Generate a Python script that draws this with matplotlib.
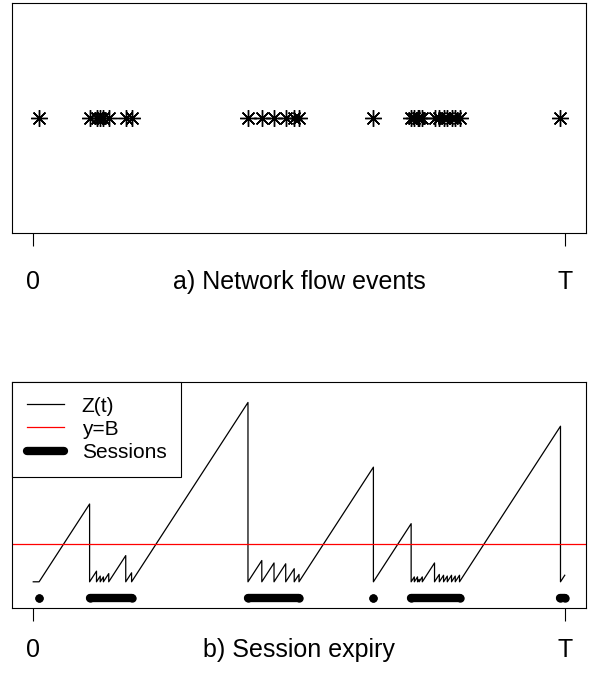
import numpy as np
import matplotlib
matplotlib.use('Agg')
import matplotlib.pyplot as plt

plt.rcParams['font.family'] = ['Liberation Sans', 'DejaVu Sans']

# --- data (time axis runs from 0 to T) ---
T = 100.0
events = [1.1, 10.6, 11.9, 12.6, 13.2, 14.2, 17.4, 18.5,
          40.4, 43.0, 45.3, 47.5, 49.1, 50.0,
          64.0,
          71.1, 71.7, 72.3, 72.6, 73.2, 75.5, 76.4, 77.2, 77.9, 78.7, 79.4, 80.2,
          99.2]
B = 4.6
session_start = [1.1, 10.6, 40.4, 64.0, 71.1, 99.2]
session_end = [1.1, 18.5, 50.0, 64.0, 80.2, 100.0]
session_level = -2.0
tick_pos = [0, T]
tick_lab = ['0', 'T']

# --- Z(t): time since last event (0 before the first one) ---
zt = [0.0, events[0]]
zv = [0.0, 0.0]
for i in range(1, len(events)):
    zt += [events[i], events[i]]
    zv += [events[i] - events[i-1], 0.0]
zt.append(T)
zv.append(T - events[-1])

W, H = 597, 673
fig = plt.figure(figsize=(W/100, H/100), dpi=100)
ax1 = fig.add_axes([12/W, 1 - 233/H, 574/W, 230/H])
ax2 = fig.add_axes([12/W, 1 - 608/H, 574/W, 226/H])

fs_leg = 15
fs_ax = 18


def bottom_labels(ax, title, off):
    for xp, lab in zip(tick_pos, tick_lab):
        ax.annotate(lab, xy=(xp, 0), xycoords=('data', 'axes fraction'),
                    xytext=(0, -off), textcoords='offset points',
                    ha='center', va='center', fontsize=fs_ax)
    ax.annotate(title, xy=(0.5, 0), xycoords='axes fraction',
                xytext=(0, -off), textcoords='offset points',
                ha='center', va='center', fontsize=fs_ax)


for ax in (ax1, ax2):
    ax.set_xlim(-4, 104)
    ax.set_yticks([])
    ax.set_xticks(tick_pos)
    ax.set_xticklabels([])
    ax.tick_params(axis='x', length=9, width=0.8, color='black')
    for s in ax.spines.values():
        s.set_linewidth(0.8)

# a) events
ax1.plot(events, np.zeros(len(events)), linestyle='none', marker=(8, 2, 0),
         ms=12, mew=1.0, color='black')
ax1.set_ylim(-1, 1)
bottom_labels(ax1, 'a) Network flow events', 35)

# b) session expiry
ax2.plot(zt, zv, color='black', lw=0.9, label='Z(t)')
ax2.axhline(B, color='red', lw=0.9, label='y=B')
for k, (s, e) in enumerate(zip(session_start, session_end)):
    ax2.plot([s, e], [session_level, session_level], color='black', lw=6,
             marker='o', ms=6, mew=0, solid_capstyle='round',
             label='Sessions' if k == 0 else None)
ax2.set_ylim(-3.2, 24.4)
bottom_labels(ax2, 'b) Session expiry', 30)

leg = ax2.legend(loc='upper left', borderaxespad=0, fancybox=False,
                 edgecolor='black', framealpha=1, fontsize=fs_leg,
                 handlelength=1.8, handletextpad=0.85, labelspacing=0.2,
                 borderpad=0.7)
leg.get_frame().set_linewidth(0.8)
for h in leg.legend_handles:
    h.set_marker('')

fig.savefig('out.png', dpi=100)
